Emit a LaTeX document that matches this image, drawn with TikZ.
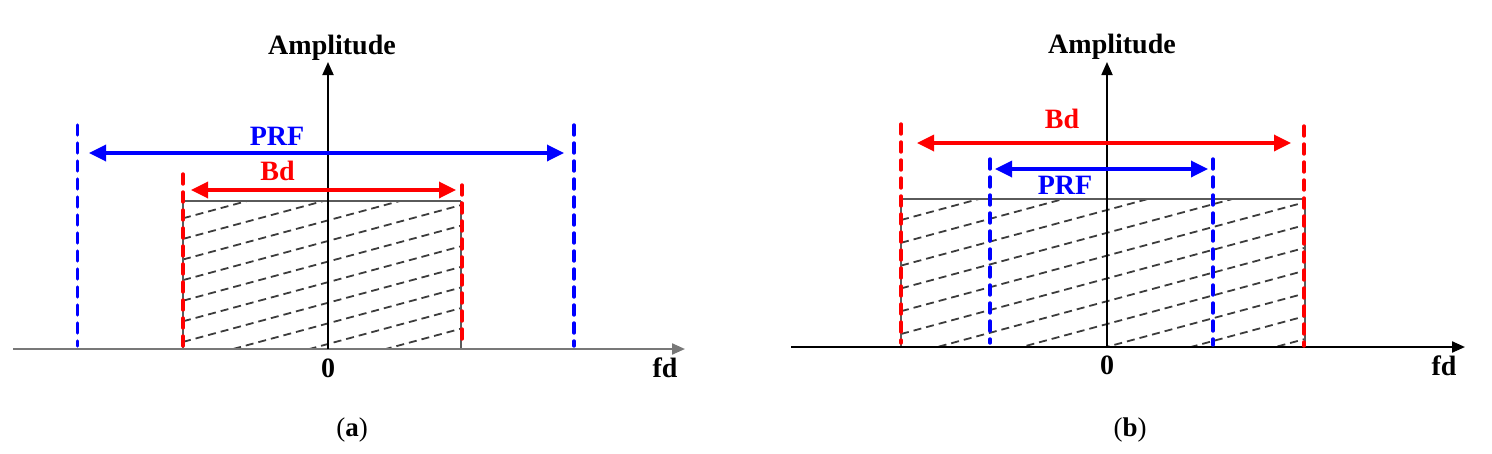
\documentclass[tikz,border=0pt]{standalone}
\usepackage{fontspec}
\setmainfont{Liberation Serif}
\usetikzlibrary{arrows.meta}
\definecolor{myblue}{RGB}{0,0,255}
\definecolor{myred}{RGB}{255,0,0}
\definecolor{hatchgray}{RGB}{60,60,60}
\definecolor{axgray}{RGB}{120,120,120}
\definecolor{rectgray}{RGB}{90,90,90}
\begin{document}
\begin{tikzpicture}[x=1pt,y=-1pt,
  lbl/.style={font=\bfseries\fontsize{28}{28}\selectfont, anchor=base, inner sep=0pt},
  captext/.style={font=\fontsize{27}{27}\selectfont, anchor=base, inner sep=0pt},
  vdash/.style={line width=3.4pt, line cap=round, dash pattern=on 10pt off 8pt},
  dimarrow/.style={line width=3.4pt, {Triangle[length=17pt,width=16pt]}-{Triangle[length=17pt,width=16pt]}},
  axisline/.style={line width=1.8pt, -{Triangle[length=13pt,width=11pt]}},
  hatchline/.style={hatchgray, line width=1.8pt, dash pattern=on 8pt off 5pt},
  recttop/.style={rectgray, line width=2.2pt},
  rectside/.style={rectgray, line width=1.2pt}]
\useasboundingbox (0,0) rectangle (1492,453);

% ===================== Panel (a) =====================
\coordinate (aRtl) at (183,201);
\coordinate (aRtr) at (461,201);
\coordinate (aRbl) at (183,349);
\coordinate (aRbr) at (461,349);
\begin{scope}
  \clip (aRtl) rectangle (aRbr);
  \foreach \k in {-1,...,11}
    \draw[hatchline] (183,{218.3+\k*20.6}) -- (461,{218.3+\k*20.6-75});
\end{scope}
\draw[recttop] (aRtl) -- (aRtr);
\draw[rectside] (aRtl) -- (aRbl);
\draw[rectside] (aRtr) -- (aRbr);

% axes
\coordinate (aXs) at (13,349);
\coordinate (aXe) at (685,349);
\coordinate (aO) at (328,349);
\coordinate (aYe) at (328,62);
\draw[axisline, axgray, line width=2.2pt] (aXs) -- (aXe);
\draw[axisline, black] (aO) -- (aYe);

% dashed verticals
\coordinate (aB1t) at (77.5,125); \coordinate (aB1b) at (77.5,346);
\coordinate (aB2t) at (574,125);  \coordinate (aB2b) at (574,346);
\coordinate (aR1t) at (183,174);  \coordinate (aR1b) at (183,346);
\coordinate (aR2t) at (462,185);  \coordinate (aR2b) at (462,346);
\draw[vdash, myblue] (aB1t) -- (aB1b);
\draw[vdash, myblue] (aB2t) -- (aB2b);
\draw[vdash, myred] (aR1t) -- (aR1b);
\draw[vdash, myred] (aR2t) -- (aR2b);

% dimension arrows
\coordinate (aPl) at (89,153);  \coordinate (aPr) at (564,153);
\coordinate (aBl) at (191,190); \coordinate (aBr) at (456,190);
\draw[dimarrow, myblue] (aPl) -- (aPr);
\draw[dimarrow, myred] (aBl) -- (aBr);

% labels
\node[lbl] (aAmp) at (332,54) {Amplitude};
\node[lbl, myblue] (aPRF) at (277,145) {PRF};
\node[lbl, myred] (aBd) at (277.5,180) {Bd};
\node[lbl] (aZero) at (328,377) {0};
\node[lbl] (aFd) at (665,377) {fd};
\node[captext] (aCap) at (352,436) {(\textbf{a})};

% ===================== Panel (b) =====================
\coordinate (bRtl) at (901,199);
\coordinate (bRtr) at (1305,199);
\coordinate (bRbl) at (901,347);
\coordinate (bRbr) at (1305,347);
\begin{scope}
  \clip (bRtl) rectangle (bRbr);
  \foreach \k in {-1,...,12}
    \draw[hatchline] (901,{220+\k*22.8}) -- (1305,{220+\k*22.8-109});
\end{scope}
\draw[recttop] (bRtl) -- (bRtr);
\draw[rectside] (bRtl) -- (bRbl);
\draw[rectside] (bRtr) -- (bRbr);

% axes
\coordinate (bXs) at (791,347);
\coordinate (bXe) at (1465,347);
\coordinate (bO) at (1107,347);
\coordinate (bYe) at (1107,62);
\draw[axisline, black, line width=2.2pt] (bXs) -- (bXe);
\draw[axisline, black] (bO) -- (bYe);

% dashed verticals
\coordinate (bR1t) at (901,124);  \coordinate (bR1b) at (901,343);
\coordinate (bR2t) at (1304,126); \coordinate (bR2b) at (1304,346);
\coordinate (bB1t) at (990,159);  \coordinate (bB1b) at (990,343);
\coordinate (bB2t) at (1213,159); \coordinate (bB2b) at (1213,345);
\draw[vdash, myred] (bR1t) -- (bR1b);
\draw[vdash, myred] (bR2t) -- (bR2b);
\draw[vdash, myblue] (bB1t) -- (bB1b);
\draw[vdash, myblue] (bB2t) -- (bB2b);

% dimension arrows
\coordinate (bBl) at (917,143);  \coordinate (bBr) at (1291,143);
\coordinate (bPl) at (995,169);  \coordinate (bPr) at (1208,169);
\draw[dimarrow, myred] (bBl) -- (bBr);
\draw[dimarrow, myblue] (bPl) -- (bPr);

% labels
\node[lbl] (bAmp) at (1112,53) {Amplitude};
\node[lbl, myred] (bBd) at (1062,128) {Bd};
\node[lbl, myblue] (bPRF) at (1065,194) {PRF};
\node[lbl] (bZero) at (1107,374) {0};
\node[lbl] (bFd) at (1444,375) {fd};
\node[captext] (bCap) at (1130,436) {(\textbf{b})};
\end{tikzpicture}
\end{document}
